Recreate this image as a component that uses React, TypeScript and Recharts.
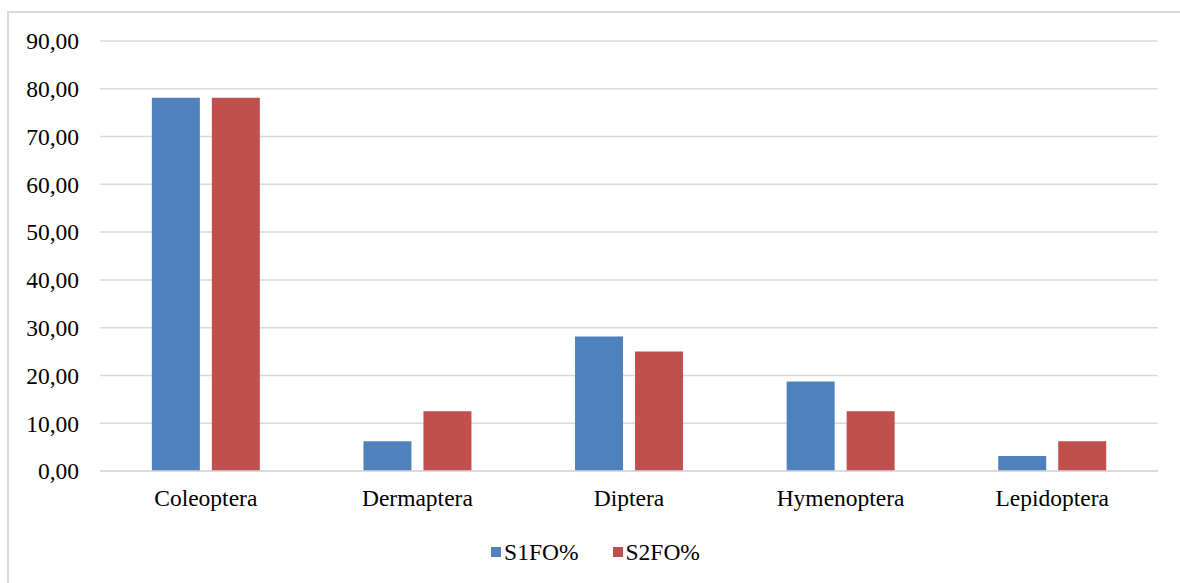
import React from "react";
import { BarChart, Bar, XAxis, YAxis, CartesianGrid, Legend } from "recharts";

const categories = ["Coleoptera", "Dermaptera", "Diptera", "Hymenoptera", "Lepidoptera"];
const s1fo = [78.13, 6.25, 28.13, 18.75, 3.13];
const s2fo = [78.13, 12.5, 25.0, 12.5, 6.25];
const yTicks = [0, 10, 20, 30, 40, 50, 60, 70, 80, 90];

const seriesNames = ["S1FO%", "S2FO%"];
const colors = ["#4f81bd", "#c0504d"];

const data = categories.map((c, i) => ({ name: c, S1: s1fo[i], S2: s2fo[i] }));

const FONT = "Liberation Serif, Times New Roman, serif";
const FS = 23.5;

const LegendContent = () => (
  <div style={{ display: "flex", justifyContent: "center", fontFamily: FONT, fontSize: FS, color: "#000", height: 22, lineHeight: "22px", paddingLeft: 33 }}>
    {seriesNames.map((n, i) => (
      <div key={n} style={{ display: "flex", alignItems: "center", marginLeft: i ? 34 : 0 }}>
        <div style={{ width: 10, height: 10, background: colors[i], marginRight: 3 }} />
        <span>{n}</span>
      </div>
    ))}
  </div>
);

export default function App() {
  return (
    <div style={{ position: "fixed", left: 0, top: 0, width: 1180, height: 583, background: "#fff", overflow: "hidden", fontFamily: FONT }}>
      <div style={{ position: "absolute", left: 7, top: 11, width: 1200, height: 600, border: "2px solid #d9d9d9", boxSizing: "border-box" }} />
      <div style={{ position: "absolute", left: 0, top: 0 }}>
        <BarChart
          width={1180}
          height={583}
          data={data}
          margin={{ top: 41, right: 22, left: 0, bottom: 50 }}
          barCategoryGap="24.5%"
          barGap={12}
          style={{ fontFamily: FONT }}
        >
          <CartesianGrid vertical={false} stroke="#d9d9d9" strokeWidth={1.5} />
          <XAxis
            dataKey="name"
            axisLine={{ stroke: "#d9d9d9", strokeWidth: 1.5 }}
            tickLine={false}
            tick={{ fill: "#000", fontFamily: FONT, fontSize: FS }}
            tickMargin={12}
            height={40}
          />
          <YAxis
            width={100}
            domain={[0, 90]}
            ticks={yTicks}
            axisLine={false}
            tickLine={false}
            tickMargin={15}
            tick={{ fill: "#000", fontFamily: FONT, fontSize: FS }}
            tickFormatter={(v: number) => v.toFixed(2).replace(".", ",")}
            interval={0}
          />
          <Legend
            content={<LegendContent />}
            verticalAlign="bottom"
            wrapperStyle={{ bottom: 20 }}
          />
          <Bar dataKey="S1" name={seriesNames[0]} fill={colors[0]} isAnimationActive={false} />
          <Bar dataKey="S2" name={seriesNames[1]} fill={colors[1]} isAnimationActive={false} />
        </BarChart>
      </div>
    </div>
  );
}
